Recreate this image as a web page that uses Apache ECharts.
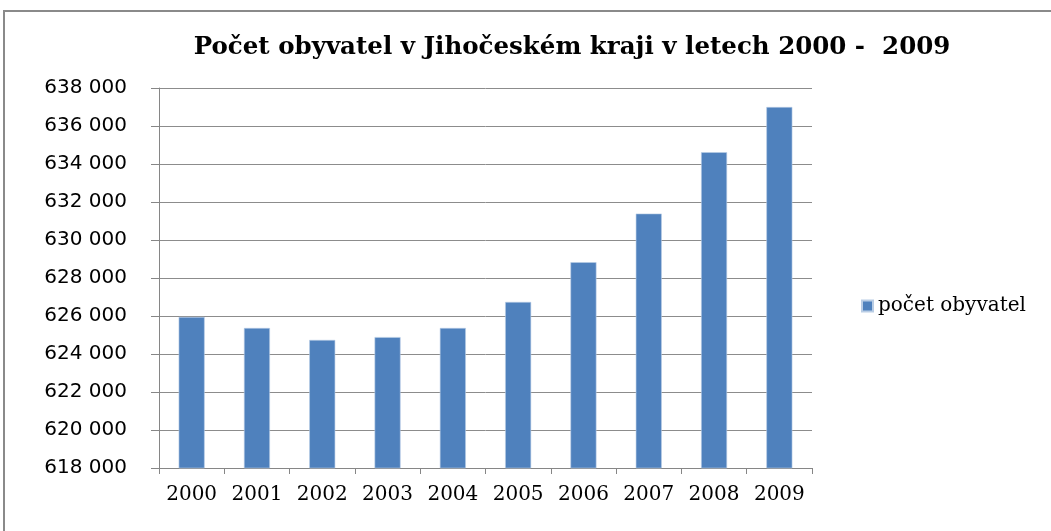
<!DOCTYPE html>
<html lang="cs">
<head>
    <meta charset="UTF-8">
    <script src="https://cdn.jsdelivr.net/npm/echarts@6/dist/echarts.min.js"></script>
    <title>Počet obyvatel</title>
    <style>
        html, body { margin: 0; padding: 0; background: #fff; }
        #main { width: 1051px; height: 531px; }
    </style>
</head>
<body>
    <div id="main"></div>

    <script type="text/javascript">
        // data
        var years = ['2000', '2001', '2002', '2003', '2004', '2005', '2006', '2007', '2008', '2009'];
        var obyvatel = [625950, 625370, 624740, 624890, 625370, 626740, 628830, 631390, 634620, 637000];
        var seriesName = 'počet obyvatel';
        var titleText = 'Počet obyvatel v Jihočeském kraji v letech 2000 -  2009';

        var myChart = echarts.init(document.getElementById('main'));

        var option = {
            backgroundColor: '#fff',
            animation: false,
            title: {
                text: titleText,
                left: 567,
                top: 30,
                textAlign: 'center',
                textStyle: {
                    fontFamily: 'DejaVu Serif',
                    fontWeight: 'bold',
                    fontSize: 24.5,
                    color: '#000'
                }
            },
            legend: {
                left: 856,
                top: 291,
                itemWidth: 11,
                itemHeight: 11,
                icon: 'rect',
                itemGap: 8,
                textStyle: {
                    fontFamily: 'DejaVu Serif',
                    fontSize: 20,
                    color: '#000'
                },
                data: [seriesName]
            },
            grid: {
                left: 159,
                right: 239,
                top: 88,
                bottom: 63
            },
            xAxis: {
                type: 'category',
                data: years,
                axisLine: { lineStyle: { color: '#868686', width: 1 } },
                axisTick: { show: true, length: 6, inside: false, lineStyle: { color: '#868686' } },
                axisLabel: {
                    interval: 0,
                    hideOverlap: false,
                    margin: 17,
                    fontFamily: 'DejaVu Serif',
                    fontSize: 20,
                    color: '#000'
                }
            },
            yAxis: {
                type: 'value',
                min: 618000,
                max: 638000,
                interval: 2000,
                axisLine: { show: true, lineStyle: { color: '#868686', width: 1 } },
                axisTick: { show: true, length: 8, lineStyle: { color: '#868686' } },
                splitLine: { lineStyle: { color: '#8c8c8c', width: 1 } },
                axisLabel: {
                    margin: 32,
                    fontFamily: 'DejaVu Sans',
                    fontSize: 20,
                    color: '#000',
                    formatter: function (v) {
                        return String(v).replace(/\B(?=(\d{3})+(?!\d))/g, ' ');
                    }
                }
            },
            series: [{
                name: seriesName,
                type: 'bar',
                barWidth: 26,
                itemStyle: {
                    color: '#4F81BD',
                    borderColor: '#B9CDE5',
                    borderWidth: 0.6
                },
                data: obyvatel
            }],
            graphic: [{
                type: 'rect',
                shape: { x: 4, y: 11, width: 1060, height: 540 },
                style: { fill: 'none', stroke: '#8a8a8a', lineWidth: 2 },
                silent: true
            }]
        };
        myChart.setOption(option);
    </script>
</body>
</html>
